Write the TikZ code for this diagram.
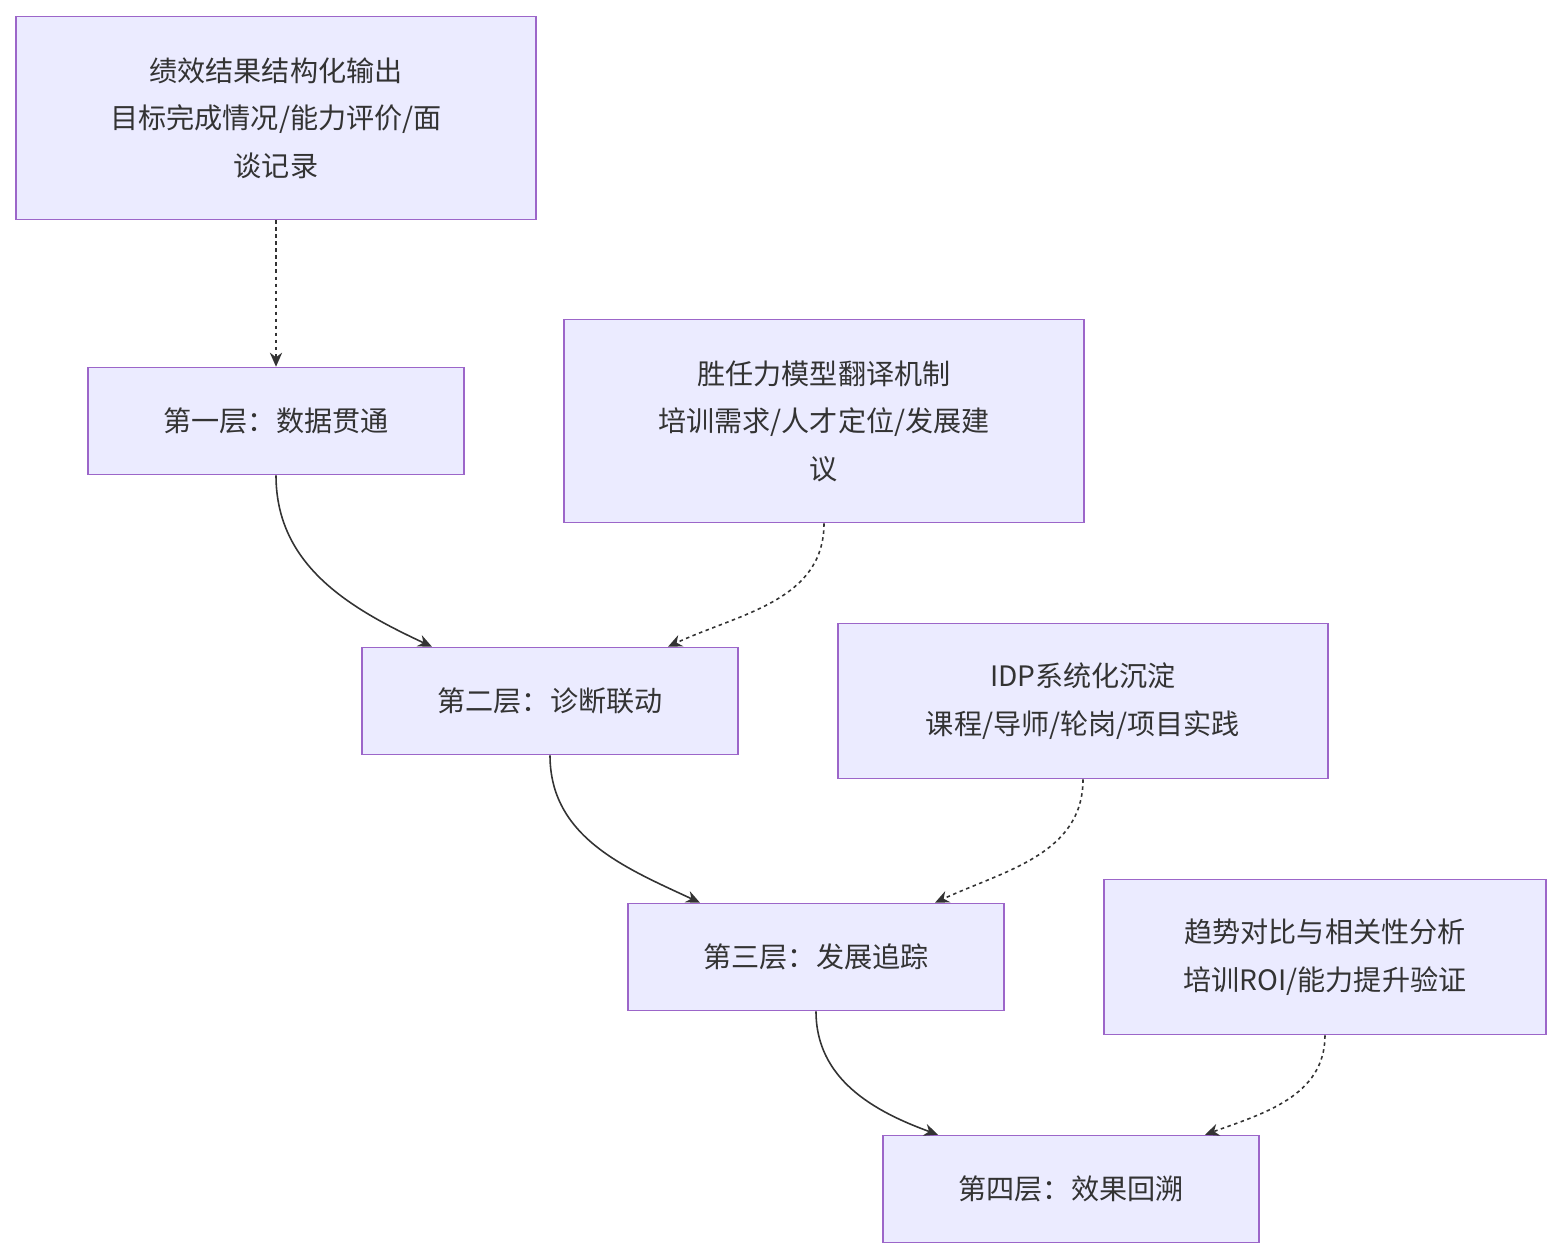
\documentclass[tikz,border=0pt]{standalone}
\usepackage{fontspec}
\setmainfont{Noto Sans CJK SC}
\usetikzlibrary{calc,arrows.meta}
\tikzset{
	box/.style={draw=violet!70!blue!60, fill=blue!8, line width=0.9pt, align=center,
		font=\fontsize{16pt}{27pt}\selectfont, text=black!80, inner sep=0pt},
	link/.style={draw=black!80, line width=0.9pt, -{Stealth[length=8pt,width=7pt]}},
	dotlink/.style={link, dash pattern=on 2pt off 2pt}
}
\begin{document}
\begin{tikzpicture}[x=0.02cm,y=-0.02cm]
	\useasboundingbox (0,0) rectangle (1562,1260);
	
	\node [box, minimum width=520*0.02cm, minimum height=203*0.02cm] (src) at (276,118) {绩效结果结构化输出\\目标完成情况/能力评价/面\\谈记录};
	\node [box, minimum width=376*0.02cm, minimum height=107*0.02cm] (l1) at (276,421) {第一层：数据贯通};
	\node [box, minimum width=520*0.02cm, minimum height=203*0.02cm] (comp) at (824,421) {胜任力模型翻译机制\\培训需求/人才定位/发展建\\议};
	\node [box, minimum width=376*0.02cm, minimum height=107*0.02cm] (l2) at (550,701) {第二层：诊断联动};
	\node [box, minimum width=490*0.02cm, minimum height=155*0.02cm] (idp) at (1083,701) {IDP系统化沉淀\\课程/导师/轮岗/项目实践};
	\node [box, minimum width=376*0.02cm, minimum height=107*0.02cm] (l3) at (816,957) {第三层：发展追踪};
	\node [box, minimum width=442*0.02cm, minimum height=155*0.02cm] (trend) at (1325,957) {趋势对比与相关性分析\\培训ROI/能力提升验证};
	\node [box, minimum width=376*0.02cm, minimum height=107*0.02cm] (l4) at (1071,1189) {第四层：效果回溯};
	
	% connectors
	\draw [dotlink] (src.south) -- (l1.north);
	\draw [link] (l1.south) to [out=270,in=155] ($(l2.north)+(-118,0)$);
	\draw [dotlink] (comp.south) to [out=270,in=25] ($(l2.north)+(118,0)$);
	\draw [link] (l2.south) to [out=270,in=155] ($(l3.north)+(-116,0)$);
	\draw [dotlink] (idp.south) to [out=270,in=25] ($(l3.north)+(119,0)$);
	\draw [link] (l3.south) to [out=270,in=160] ($(l4.north)+(-133,0)$);
	\draw [dotlink] (trend.south) to [out=270,in=20] ($(l4.north)+(134,0)$);
	
\end{tikzpicture}
\end{document}
